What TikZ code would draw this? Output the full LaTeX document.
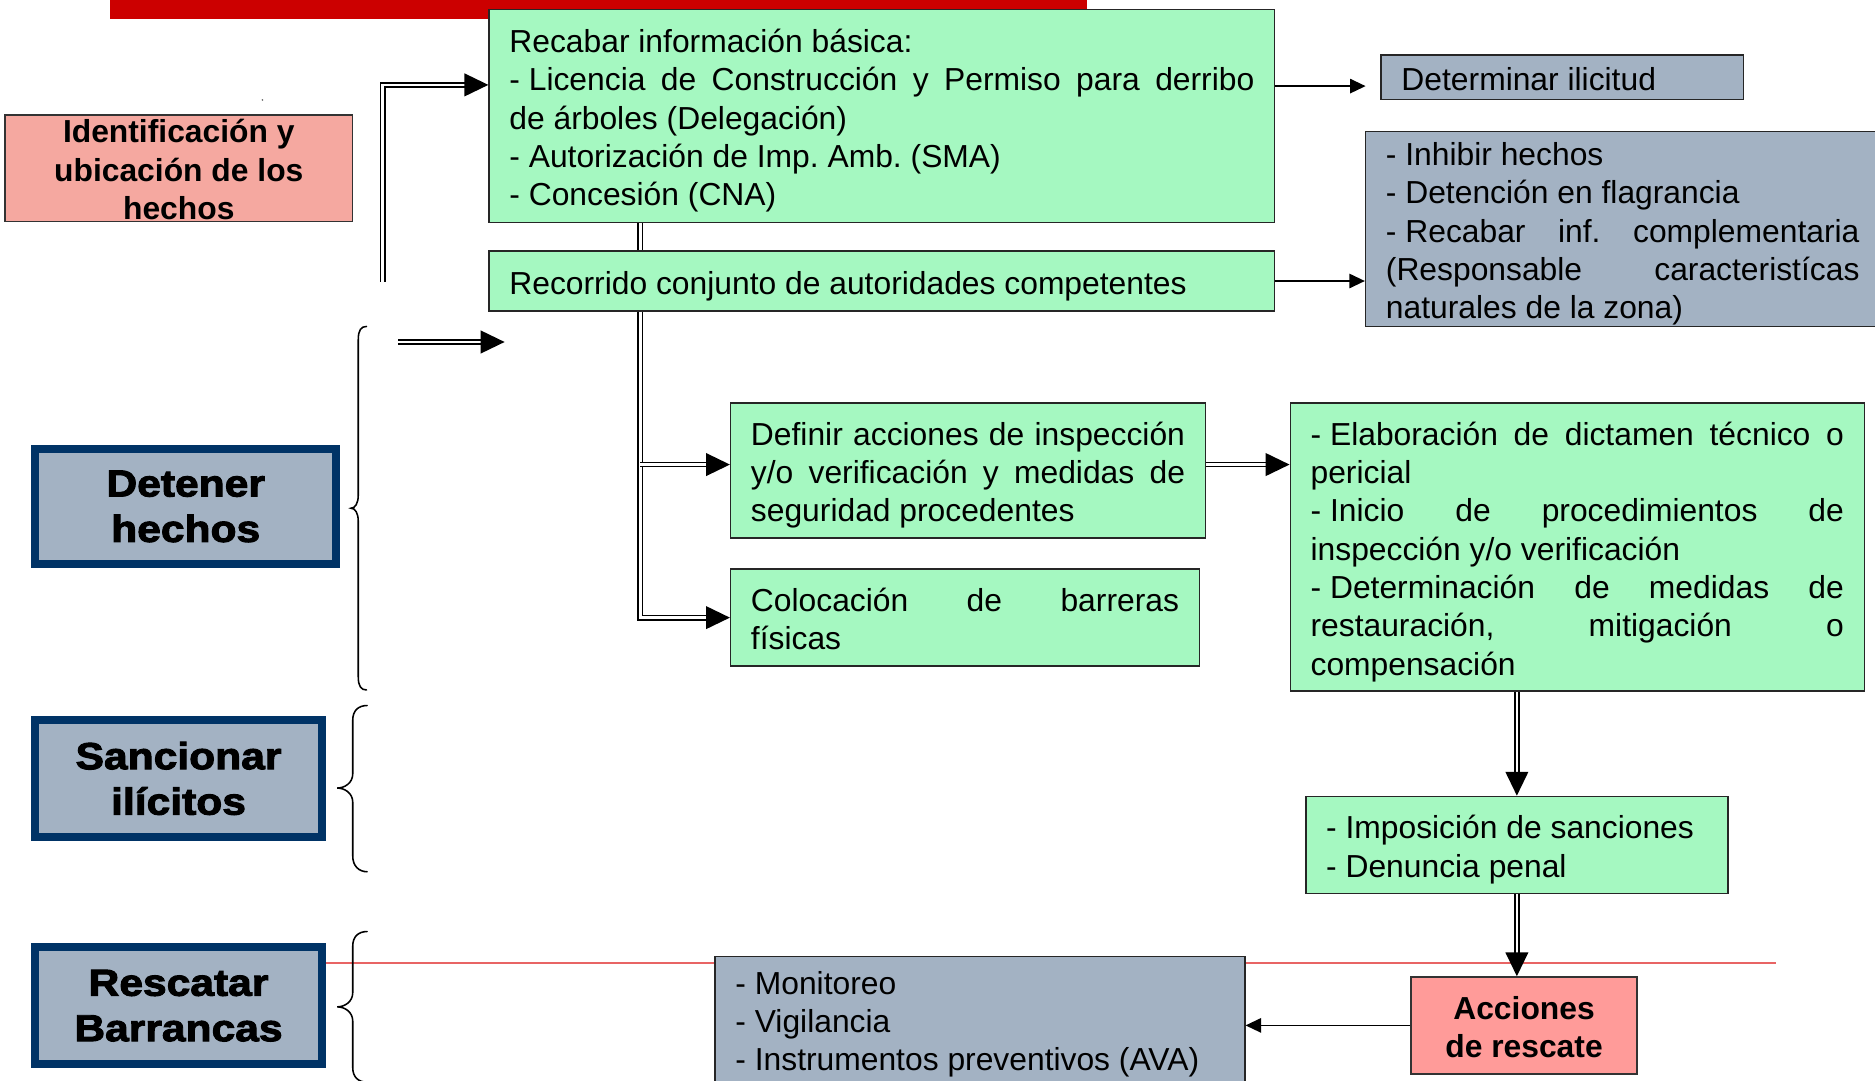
\documentclass[tikz,border=0pt]{standalone}
\usepackage{fontspec}
\setmainfont{Liberation Sans}
\newfontfamily\blackfont[FakeBold=2.6,FakeStretch=1.13]{Liberation Sans}
\usetikzlibrary{arrows.meta}
\definecolor{boxgreen}{HTML}{A5F8C1}
\definecolor{boxgray}{HTML}{A3B2C3}
\definecolor{pinkA}{HTML}{F5A8A0}
\definecolor{pinkB}{HTML}{FF9B99}
\definecolor{navy}{HTML}{003366}
\definecolor{barred}{HTML}{CC0000}
\definecolor{thinred}{HTML}{E86464}
\newcommand\mainfs{\fontsize{26.6}{32}\selectfont\frenchspacing}
\newcommand\lblfs{\fontsize{31.5}{38}\selectfont}
\newcommand\natspaces{\spaceskip=0pt\xspaceskip=0pt\relax}
\newcommand\J[1]{\makebox[\hsize][s]{\natspaces#1}}
\newcommand\dsh{-\kern7.4pt\relax}
\newcommand\topstrut[1]{\rule{0pt}{#1}}
\newcommand\botstrut[1]{\rule[-#1]{0pt}{#1}}
\begin{document}
\begin{tikzpicture}[x=1pt,y=-1pt,
  gbox/.style={draw=black!85, line width=1.2pt, fill=boxgreen, inner xsep=17pt, inner ysep=0pt, align=left, font=\mainfs,
    execute at begin node={\natspaces\topstrut{28pt}}, execute at end node={\botstrut{6pt}}},
  gybox/.style={gbox, fill=boxgray},
  pbox/.style={draw=black!80, line width=1.2pt, inner xsep=0pt, inner ysep=-12pt, align=center, font=\mainfs\bfseries,
    execute at begin node={\centering\natspaces\topstrut{28pt}}, execute at end node={\botstrut{6pt}}},
  lbl/.style={draw=navy, line width=6.5pt, fill=boxgray, inner sep=0pt, align=center, font=\blackfont\bfseries\lblfs},
  dline/.style={double, double distance=2pt, line width=1.4pt},
  darrow/.style={dline, -{Triangle[length=20pt,width=19pt]}},
  sarrow/.style={line width=1.5pt, -{Triangle[length=13pt,width=12pt]}},
  bracestyle/.style={line width=1.3pt, line cap=round}
]
\useasboundingbox (0,0) rectangle (1568,904);
% top red bar and thin red line
\fill[barred] (92,0) rectangle (909,16);
\draw[thinred, line width=1.3pt] (272.6,805.5) -- (1485,805.5);
\fill[black!60] (219.5,83.6) circle (0.8);

% green and grey boxes
\node[gbox, text width=623pt, minimum height=178pt] (b1) at (737.5,97)
 {Recabar información básica:\\
  \J{\dsh Licencia de Construcción y Permiso para derribo}\\
  de árboles (Delegación)\\
  - Autorización de Imp. Amb. (SMA)\\
  - Concesión (CNA)};
\node[gbox, text width=623pt, minimum height=50pt] (b2) at (737.5,235)
 {Recorrido conjunto de autoridades competentes};
\node[gybox, text width=269pt, minimum height=37pt] (det) at (1306.5,64.5)
 {Determinar ilicitud};
\node[gybox, text width=396pt, minimum height=163pt] (g2) at (1357,191.5)
 {- Inhibir hechos\\
  - Detención en flagrancia\\
  \J{\dsh Recabar inf. complementaria}\\
  \J{(Responsable caracteristícas}\\
  naturales de la zona)};
\node[gbox, text width=363pt, minimum height=113pt] (b3) at (809.5,393.5)
 {\J{Definir acciones de inspección}\\
  \J{y/o verificación y medidas de}\\
  seguridad procedentes};
\node[gbox, text width=358pt, minimum height=81pt] (b4) at (807,516.5)
 {\J{Colocación de barreras}\\
  físicas};
\node[gbox, text width=446pt, minimum height=241pt] (b5) at (1319,457.5)
 {\J{\dsh Elaboración de dictamen técnico o}\\
  pericial\\
  \J{\dsh Inicio de procedimientos de}\\
  inspección y/o verificación\\
  \J{\dsh Determinación de medidas de}\\
  \J{restauración, mitigación o}\\
  compensación};
\node[gbox, text width=319pt, minimum height=81pt] (b6) at (1268.5,706.5)
 {- Imposición de sanciones\\
  - Denuncia penal};
\node[gybox, text width=409pt, minimum height=115pt, execute at end node={\botstrut{16pt}}] (g8) at (819.5,857.5)
 {- Monitoreo\\
  - Vigilancia\\
  - Instrumentos preventivos (AVA)};
\node[pbox, fill=pinkB, text width=189pt, minimum height=81pt] (resc) at (1274.5,857.5)
 {Acciones\\de rescate};
\node[pbox, fill=pinkA, text width=291pt, minimum height=89pt] (ident) at (149.5,140.5)
 {Identificación y\\ubicación de los\\hechos};

% left labels
\node[lbl, minimum width=251.5pt, minimum height=96.5pt] (detener) at (155.3,423.5) {Detener\\hechos};
\node[lbl, minimum width=239.5pt, minimum height=97.5pt] (sancionar) at (149.3,651) {Sancionar\\ilícitos};
\node[lbl, minimum width=239.5pt, minimum height=97.5pt] (rescatar) at (149.3,841) {Rescatar\\Barrancas};

% braces
\draw[bracestyle] (306.5,273) .. controls (302,273) and (299.6,276) .. (299.6,284) -- (299.6,414)
  .. controls (299.6,421) and (297,425) .. (293.5,425)
  .. controls (297,425) and (299.6,429) .. (299.6,436) -- (299.6,566)
  .. controls (299.6,574) and (302,577) .. (306.5,577);
\draw[bracestyle] (307,590) .. controls (300,590) and (295,594) .. (295,602) -- (295,647)
  .. controls (295,655) and (288,659) .. (282,659)
  .. controls (288,659) and (295,663) .. (295,671) -- (295,716)
  .. controls (295,724) and (300,729) .. (307,729);
\draw[bracestyle] (307,779) .. controls (300,779) and (295,783) .. (295,791) -- (295,830)
  .. controls (295,838) and (288,842) .. (282,842)
  .. controls (288,842) and (295,846) .. (295,854) -- (295,893)
  .. controls (295,901) and (300,905) .. (307,905);

% connectors
\coordinate (s0) at (320,235.5);
\coordinate (s1) at (0,71);
\draw[darrow] (s0) |- (b1.west |- s1);
\coordinate (f0) at (333,286);
\coordinate (f1) at (422,286);
\draw[darrow] (f0) -- (f1);
\coordinate (sp) at (535.5,0);
\draw[dline] (b1.south -| sp) -- (b2.north -| sp);
\draw[darrow] (b2.south -| sp) |- (b4.west);
\coordinate (j1) at (535.5,388.5);
\draw[darrow] (j1) -- (b3.west |- j1);
\draw[darrow] (b3.east |- j1) -- (b5.west |- j1);
\draw[darrow] (b6.north |- b5.south) -- (b6.north);
\draw[darrow] (b6.south) -- (b6.south |- resc.north);
\coordinate (t1) at (1142,72);
\draw[sarrow] (b1.east |- t1) -- (t1);
\draw[sarrow] (b2.east) -- (b2.east -| g2.west);
\draw[sarrow] (resc.west) -- (resc.west -| g8.east);
\end{tikzpicture}
\end{document}
